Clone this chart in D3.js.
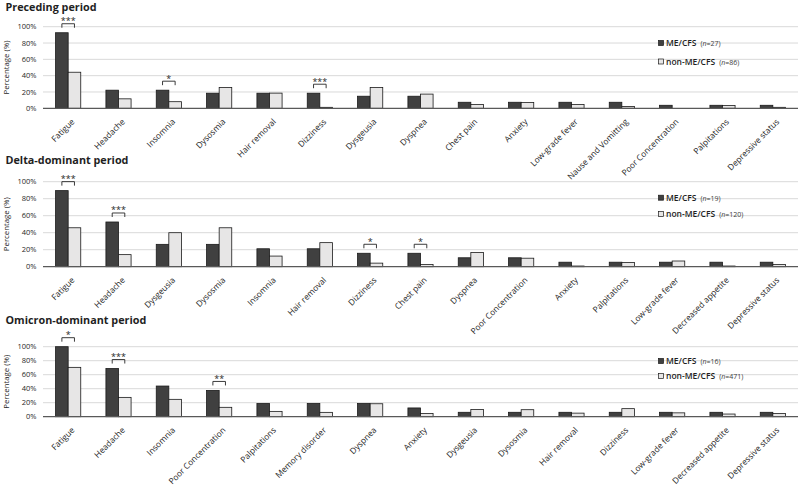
<!DOCTYPE html>
<html>
<head>
<meta charset="utf-8">
<script src="https://cdn.jsdelivr.net/npm/d3@7"></script>
<style>
  body { margin: 0; background: #fff; }
  text { font-family: "Open Sans", Lato, sans-serif; fill: #1f1f1f; }
</style>
</head>
<body>
<script>
// Preceding period
const precCats = ["Fatigue", "Headache", "Insomnia", "Dysosmia", "Hair removal", "Dizziness", "Dysgeusia", "Dyspnea",
  "Chest pain", "Anxiety", "Low-grade fever", "Nause and Vomitting", "Poor Concentration", "Palpitations", "Depressive status"];
const precMe = [92.6, 22.2, 22.2, 18.5, 18.5, 18.5, 14.8, 14.8, 7.4, 7.4, 7.4, 7.4, 3.7, 3.7, 3.7];
const precNon = [44.2, 11.6, 8.1, 25.6, 18.6, 1.2, 25.6, 17.4, 4.7, 7.0, 4.7, 2.3, 0, 3.5, 1.2];
const precSig = [["Fatigue", "***"], ["Insomnia", "*"], ["Dizziness", "***"]];

// Delta-dominant period
const deltaCats = ["Fatigue", "Headache", "Dysgeusia", "Dysosmia", "Insomnia", "Hair removal", "Dizziness", "Chest pain",
  "Dyspnea", "Poor Concentration", "Anxiety", "Palpitations", "Low-grade fever", "Decreased appetite", "Depressive status"];
const deltaMe = [89.5, 52.6, 26.3, 26.3, 21.1, 21.1, 15.8, 15.8, 10.5, 10.5, 5.3, 5.3, 5.3, 5.3, 5.3];
const deltaNon = [45.8, 14.2, 40.0, 45.8, 12.5, 28.3, 4.2, 2.5, 16.7, 10.0, 0.8, 5.0, 6.7, 0.8, 2.5];
const deltaSig = [["Fatigue", "***"], ["Headache", "***"], ["Dizziness", "*"], ["Chest pain", "*"]];

// Omicron-dominant period
const omiCats = ["Fatigue", "Headache", "Insomnia", "Poor Concentration", "Palpitations", "Memory disorder", "Dyspnea",
  "Anxiety", "Dysgeusia", "Dysosmia", "Hair removal", "Dizziness", "Low-grade fever", "Decreased appetite", "Depressive status"];
const omiMe = [100, 68.8, 43.8, 37.5, 18.8, 18.8, 18.8, 12.5, 6.3, 6.3, 6.3, 6.3, 6.3, 6.3, 6.3];
const omiNon = [70.5, 27.6, 24.8, 13.4, 7.6, 6.2, 18.5, 4.7, 10.4, 10.0, 5.1, 11.5, 5.5, 3.8, 4.5];
const omiSig = [["Fatigue", "*"], ["Headache", "***"], ["Poor Concentration", "**"]];

const yTicks = [0, 20, 40, 60, 80, 100];
const seriesNames = ["ME/CFS", "non-ME/CFS"];
const seriesFill = ["#404040", "#e7e6e6"];

const panels = [
  { title: "Preceding period", titleY: 11.2, top: 26.7, bottom: 108.3, cats: precCats, me: precMe, non: precNon,
    sig: precSig, n: [27, 86], legendY: 43, legendGap: 18.5 },
  { title: "Delta-dominant period", titleY: 164, top: 181.7, bottom: 266.7, cats: deltaCats, me: deltaMe, non: deltaNon,
    sig: deltaSig, n: [19, 120], legendY: 197.7, legendGap: 16.4 },
  { title: "Omicron-dominant period", titleY: 324, top: 346.7, bottom: 416.7, cats: omiCats, me: omiMe, non: omiNon,
    sig: omiSig, n: [16, 471], legendY: 361, legendGap: 15 }
];

const svg = d3.select("body")
    .append("svg")
    .attr("width", 800)
    .attr("height", 486);

const left = 43, right = 798;

panels.forEach(p => {
  const g = svg.append("g");

  const x = d3.scaleBand()
      .domain(p.cats)
      .range([left, right])
      .paddingInner(0.5)
      .paddingOuter(0.25);

  const xSub = d3.scaleBand()
      .domain([0, 1])
      .range([0, x.bandwidth()]);

  const y = d3.scaleLinear()
      .domain([0, 100])
      .range([p.bottom, p.top]);

  // title
  g.append("text")
      .attr("x", 5.5)
      .attr("y", p.titleY)
      .attr("font-size", 10.8)
      .attr("font-weight", "bold")
      .text(p.title);

  // gridlines
  g.append("g")
      .selectAll("line")
      .data(yTicks.filter(t => t > 0))
      .join("line")
      .attr("x1", left)
      .attr("x2", right)
      .attr("y1", d => y(d))
      .attr("y2", d => y(d))
      .attr("stroke", "#d9d9d9")
      .attr("stroke-width", 1);

  // y tick labels
  g.append("g")
      .selectAll("text")
      .data(yTicks)
      .join("text")
      .attr("x", 36.5)
      .attr("y", d => y(d) + 2.7)
      .attr("text-anchor", "end")
      .attr("font-size", 7.5)
      .attr("fill", "#404040")
      .text(d => d + "%");

  // y label
  g.append("text")
      .attr("transform", `translate(9,${(p.top + p.bottom) / 2}) rotate(-90)`)
      .attr("text-anchor", "middle")
      .attr("font-size", 7.8)
      .text("Percentage (%)");

  // bars
  const rows = p.cats.map((c, i) => ({ cat: c, vals: [p.me[i], p.non[i]] }));
  g.append("g")
      .selectAll("g")
      .data(rows)
      .join("g")
      .attr("transform", d => `translate(${x(d.cat)},0)`)
      .selectAll("rect")
      .data(d => d.vals.map((v, k) => ({ v, k })))
      .join("rect")
      .attr("x", d => xSub(d.k))
      .attr("width", xSub.bandwidth())
      .attr("y", d => y(d.v))
      .attr("height", d => p.bottom - y(d.v))
      .attr("fill", d => seriesFill[d.k])
      .attr("stroke", "#1a1a1a")
      .attr("stroke-width", 0.8);

  // baseline
  g.append("line")
      .attr("x1", left)
      .attr("x2", right)
      .attr("y1", p.bottom)
      .attr("y2", p.bottom)
      .attr("stroke", "#595959")
      .attr("stroke-width", 1.2);

  // x labels
  g.append("g")
      .selectAll("text")
      .data(p.cats)
      .join("text")
      .attr("transform", d => `translate(${x(d) + x.bandwidth() / 2 + 7},${p.bottom + 14}) rotate(-45)`)
      .attr("text-anchor", "end")
      .attr("font-size", 8.4)
      .attr("fill", "#111")
      .text(d => d);

  // significance brackets
  p.sig.forEach(([cat, stars]) => {
    const i = p.cats.indexOf(cat);
    const x1 = x(cat) + xSub(0) + xSub.bandwidth() / 2;
    const x2 = x(cat) + xSub(1) + xSub.bandwidth() / 2;
    const top = y(Math.max(p.me[i], p.non[i])) - 9;
    g.append("path")
        .attr("d", `M${x1},${top + 4}V${top}H${x2}V${top + 4}`)
        .attr("fill", "none")
        .attr("stroke", "#262626")
        .attr("stroke-width", 0.9);
    g.append("text")
        .attr("x", (x1 + x2) / 2)
        .attr("y", top + 0.5)
        .attr("text-anchor", "middle")
        .attr("font-size", 9)
        .text(stars);
  });

  // legend
  const lg = g.append("g").attr("transform", `translate(658.5,${p.legendY})`);
  seriesNames.forEach((name, k) => {
    const ly = k * p.legendGap;
    lg.append("rect")
        .attr("x", 0)
        .attr("y", ly - 2.5)
        .attr("width", 5)
        .attr("height", 5)
        .attr("fill", seriesFill[k])
        .attr("stroke", "#1a1a1a")
        .attr("stroke-width", 0.7);
    const t = lg.append("text")
        .attr("x", 7.5)
        .attr("y", ly + 3)
        .attr("font-size", 8.5)
        .attr("font-weight", 600);
    t.append("tspan").text(name);
    t.append("tspan").attr("dx", 4).attr("font-size", 7).attr("font-weight", "normal").attr("fill", "#404040").text("(");
    t.append("tspan").attr("font-size", 7).attr("font-weight", "normal").attr("font-style", "italic").attr("fill", "#404040").text("n");
    t.append("tspan").attr("font-size", 7).attr("font-weight", "normal").attr("fill", "#404040").text("=" + p.n[k] + ")");
  });
});
</script>
</body>
</html>
